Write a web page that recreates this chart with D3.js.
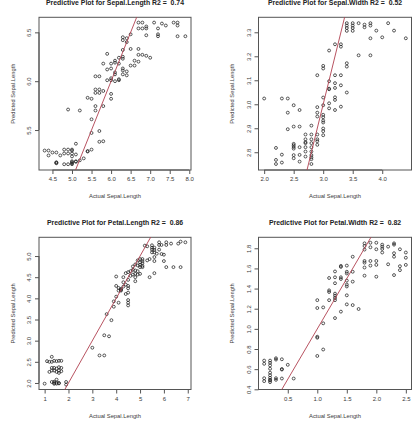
<!DOCTYPE html>
<html><head><meta charset="utf-8">
<script src="https://cdn.jsdelivr.net/npm/d3@7"></script>
<style>body{margin:0;background:#fff}svg{display:block}</style>
</head><body><svg id="c" width="416" height="423"></svg>
<script>
// [actual, predicted] pairs
const sepalLengthPts = [[4.3,5.29],[4.4,5.29],[4.4,5.24],[4.5,5.27],[4.6,5.27],[4.7,5.24],[4.6,5.16],[4.6,5.17],[4.6,5.165],
[4.8,5.30],[4.9,5.30],[5.0,5.29],[5.0,5.30],[4.8,5.26],[4.9,5.26],[5.0,5.26],[4.8,5.15],[4.9,5.15],[5.0,5.15],[5.0,5.16],[5.0,5.17],[5.0,5.18],
[5.1,5.18],[5.1,5.175],[5.2,5.19],[5.0,5.23],[5.1,5.36],[5.1,5.25],[5.3,5.21],[5.4,5.28],[5.4,5.285],[5.5,5.30],
[4.9,5.71],[5.2,5.70],[5.4,5.83],[5.5,5.82],[5.5,5.61],[5.5,5.47],[5.6,5.745],[5.6,5.70],[5.7,5.49],[5.7,5.38],[5.8,5.385],[5.8,5.745],
[5.6,5.915],[5.6,5.88],[5.7,5.915],[5.7,5.88],[5.8,5.90],[5.6,6.05],[5.7,6.05],[5.8,6.18],
[5.9,6.28],[5.9,6.12],[5.9,6.01],[6.0,6.18],[6.0,6.13],[6.0,6.03],[6.0,6.01],[6.0,5.87],[6.0,5.82],
[6.1,6.21],[6.1,6.19],[6.1,6.09],[6.1,6.07],[6.1,6.00],[6.2,6.24],[6.2,6.18],[6.2,6.02],[6.2,6.01],
[6.3,6.45],[6.3,6.42],[6.3,6.32],[6.3,6.25],[6.3,6.23],[6.3,6.13],[6.3,6.11],[6.3,6.07],
[6.4,6.44],[6.4,6.40],[6.4,6.10],[6.4,6.06],[6.5,6.48],[6.5,6.33],[6.5,6.16],[6.6,6.21],[6.6,6.16],
[6.7,6.60],[6.7,6.54],[6.8,6.60],[6.8,6.54],[6.7,6.33],[6.7,6.27],[6.7,6.20],[6.8,6.27],
[6.9,6.54],[6.9,6.56],[6.9,6.47],[6.9,6.26],[7.0,6.24],[7.1,6.60],[7.2,6.54],[7.2,6.48],[7.2,6.46],
[7.3,6.59],[7.4,6.57],[7.6,6.60],[7.7,6.60],[7.7,6.57],[7.7,6.46],[7.9,6.46]];

const sepalWidthPts = [[2.0,3.024],[2.2,2.818],[2.2,2.768],[2.2,2.751],[2.3,3.024],[2.3,2.790],[2.3,2.757],
[2.4,3.024],[2.4,2.965],[2.4,2.896],[2.5,2.996],[2.5,2.907],[2.5,2.835],[2.5,2.829],[2.5,2.822],[2.5,2.815],[2.5,2.788],[2.5,2.775],
[2.6,2.976],[2.6,2.907],[2.6,2.821],[2.6,2.789],[2.6,2.761],
[2.7,2.874],[2.7,2.854],[2.7,2.842],[2.7,2.838],[2.7,2.821],[2.7,2.803],[2.7,2.782],
[2.8,2.911],[2.8,2.874],[2.8,2.854],[2.8,2.838],[2.8,2.821],[2.8,2.803],[2.8,2.788],[2.8,2.779],[2.8,2.771],[2.8,2.751],
[2.9,3.121],[2.9,2.988],[2.9,2.965],[2.9,2.949],[2.9,2.874],[2.9,2.854],[2.9,2.846],[2.9,2.831],
[3.0,3.160],[3.0,3.149],[3.0,3.028],[3.0,2.996],[3.0,2.956],[3.0,2.946],[3.0,2.932],[3.0,2.924],[3.0,2.899],[3.0,2.888],[3.0,2.871],
[3.1,3.224],[3.1,3.096],[3.1,3.0625],[3.1,3.065],[3.1,3.004],[3.1,2.983],
[3.2,3.250],[3.2,3.121],[3.2,3.088],[3.2,3.068],[3.2,3.029],[3.2,3.018],[3.2,2.976],
[3.3,3.250],[3.3,3.240],[3.3,3.121],[3.3,3.079],[3.3,2.990],
[3.4,3.338],[3.4,3.328],[3.4,3.318],[3.4,3.306],[3.4,3.171],[3.4,3.157],[3.4,3.049],
[3.5,3.338],[3.5,3.328],[3.5,3.318],[3.5,3.306],[3.6,3.338],[3.6,3.204],[3.7,3.332],[3.7,3.321],
[3.8,3.338],[3.8,3.328],[3.8,3.275],[3.8,3.204],[3.9,3.307],[4.0,3.279],[4.1,3.338],[4.2,3.307],[4.4,3.275]];

const petalLengthPts = [[1.0,1.984],[1.1,2.516],[1.2,2.50],[1.3,2.619],[1.3,2.50],[1.4,2.524],[1.5,2.516],[1.6,2.524],[1.7,2.524],
[1.2,2.262],[1.3,2.294],[1.3,2.357],[1.4,2.294],[1.4,2.357],[1.5,2.262],[1.5,2.341],[1.6,2.373],[1.6,2.294],[1.6,2.238],[1.7,2.357],[1.7,2.278],
[1.3,2.024],[1.4,2.0],[1.4,2.03],[1.5,1.984],[1.5,2.079],[1.5,2.01],[1.6,2.0],[1.4,1.98],[1.6,1.99],[1.9,2.024],[1.9,1.960],
[3.0,2.833],[3.3,2.651],[3.5,2.651],[3.5,3.127],[3.7,3.103],[3.6,3.627],[3.8,3.484],[3.9,3.802],[3.9,3.929],
[4.0,4.294],[4.0,4.516],[4.0,4.040],[4.1,3.897],[4.1,4.183],[4.1,4.246],[4.2,4.222],[4.2,4.183],[4.2,4.20],
[4.3,4.50],[4.3,4.381],[4.3,4.278],[4.4,4.595],[4.4,4.325],[4.4,4.103],
[4.5,4.619],[4.5,4.437],[4.5,4.294],[4.5,4.238],[4.5,4.135],[4.5,3.960],[4.5,3.897],[4.5,3.833],
[4.6,4.643],[4.6,4.532],[4.7,4.754],[4.7,4.675],[4.7,4.563],
[4.8,4.802],[4.8,4.659],[4.8,4.579],[4.8,4.50],[4.8,4.405],[4.9,4.897],[4.9,4.778],[4.9,4.643],[4.9,4.563],
[5.0,4.929],[5.0,4.849],[5.0,4.794],[5.0,4.738],[5.0,4.579],[5.1,4.929],[5.1,4.881],[5.1,4.833],[5.1,4.770],[5.1,4.738],
[5.2,5.246],[5.3,5.230],[5.3,4.897],[5.4,4.929],[5.4,4.50],[5.5,5.254],[5.5,5.198],[5.5,5.151],[5.5,5.087],
[5.6,5.198],[5.6,5.143],[5.6,5.087],[5.6,4.976],[5.6,4.881],[5.6,4.595],[5.7,5.056],
[5.8,5.325],[5.8,5.262],[5.8,5.151],[5.9,5.262],[5.9,5.048],[6.0,5.032],[6.0,4.881],
[6.1,5.325],[6.1,5.262],[6.1,4.738],[6.3,5.294],[6.4,4.738],[6.6,5.294],[6.7,5.341],[6.7,4.738],[6.9,5.325]];

const petalWidthPts = [[0.1,0.685],[0.1,0.653],[0.1,0.510],[0.1,0.481],
[0.2,0.685],[0.2,0.663],[0.2,0.637],[0.2,0.604],[0.2,0.565],[0.2,0.539],[0.2,0.514],[0.2,0.494],[0.2,0.471],[0.2,0.488],
[0.3,0.708],[0.3,0.695],[0.3,0.510],[0.3,0.494],[0.4,0.698],[0.4,0.601],[0.4,0.596],[0.4,0.507],[0.5,0.643],[0.6,0.507],
[1.0,1.285],[1.0,1.207],[1.0,0.922],[1.0,0.912],[1.0,0.731],[1.1,1.213],[1.1,1.055],[1.1,0.795],
[1.2,1.505],[1.2,1.382],[1.2,1.366],[1.2,1.285],
[1.3,1.570],[1.3,1.512],[1.3,1.453],[1.3,1.350],[1.3,1.330],[1.3,1.307],[1.3,1.285],[1.3,1.107],
[1.4,1.625],[1.4,1.615],[1.4,1.512],[1.4,1.495],[1.4,1.171],
[1.5,1.628],[1.5,1.567],[1.5,1.550],[1.5,1.479],[1.5,1.440],[1.5,1.421],[1.5,1.333],[1.5,1.243],
[1.6,1.716],[1.6,1.567],[1.6,1.469],[1.6,1.236],[1.7,1.197],
[1.8,1.849],[1.8,1.823],[1.8,1.787],[1.8,1.674],[1.8,1.657],[1.8,1.609],[1.8,1.528],
[1.9,1.855],[1.9,1.810],[1.9,1.674],[1.9,1.628],[2.0,1.855],[2.0,1.790],[2.0,1.674],[2.0,1.635],[2.0,1.518],
[2.1,1.836],[2.1,1.816],[2.1,1.794],[2.1,1.758],[2.2,1.816],[2.2,1.641],
[2.3,1.849],[2.3,1.836],[2.3,1.751],[2.3,1.716],[2.3,1.534],[2.4,1.790],[2.4,1.622],[2.4,1.583],
[2.5,1.758],[2.5,1.706],[2.5,1.635]];

const titles = ["Predictive Plot for Sepal.Length R2 =  0.74","Predictive Plot for Sepal.Width R2 =  0.52",
                "Predictive Plot for Petal.Length R2 =  0.86","Predictive Plot for Petal.Width R2 =  0.82"];
const xLabel = "Actual Sepal.Length";
const yLabel = "Predicted Sepal.Length";
const xTicks = [[4.5,5.0,5.5,6.0,6.5,7.0,7.5,8.0],[2.0,2.5,3.0,3.5,4.0],[1,2,3,4,5,6,7],[0.5,1.0,1.5,2.0,2.5]];
const yTicks = [[5.5,6.0,6.5],[2.8,2.9,3.0,3.1,3.2,3.3],[2.0,2.5,3.0,3.5,4.0,4.5,5.0],[0.4,0.6,0.8,1.0,1.2,1.4,1.6,1.8]];
const xFormats = [".1f",".1f","d",".1f"];
const xDomains = [[4.156,8.044],[1.904,4.496],[0.764,7.136],[0.004,2.596]];
const yDomains = [[5.091,6.654],[2.726,3.3625],[1.846,5.443],[0.398,1.909]];

const layout = [
  {l:39, t:17.3, r:191, b:170},
  {l:258.5, t:17.3, r:411.5, b:170},
  {l:39, t:237.3, r:191, b:389.5},
  {l:258.5, t:237.3, r:411.5, b:389.5}
];
const allPts = [sepalLengthPts, sepalWidthPts, petalLengthPts, petalWidthPts];

const svg = d3.select("#c");
const FONT = "'Liberation Sans', Arial, Helvetica, sans-serif";
const textCol = "#3a3a3a";

allPts.forEach((pts, i) => {
  const L = layout[i];
  const x = d3.scaleLinear().domain(xDomains[i]).range([L.l, L.r]);
  const y = d3.scaleLinear().domain(yDomains[i]).range([L.b, L.t]);
  const g = svg.append("g");

  // x axis
  const xa = g.append("g").attr("transform", `translate(0,${L.b})`)
    .call(d3.axisBottom(x).tickValues(xTicks[i]).tickFormat(d3.format(xFormats[i])).tickSize(4).tickPadding(3));
  xa.select(".domain").attr("d", `M${x(xTicks[i][0])},0H${x(xTicks[i][xTicks[i].length-1])}`).attr("stroke","#555");
  xa.selectAll(".tick line").attr("stroke","#555");
  xa.selectAll(".tick text").attr("font-family",FONT).attr("font-size","6px").attr("fill",textCol);

  // y axis
  const ya = g.append("g").attr("transform", `translate(${L.l},0)`)
    .call(d3.axisLeft(y).tickValues(yTicks[i]).tickFormat(d3.format(".1f")).tickSize(4).tickPadding(3));
  ya.select(".domain").attr("d", `M0,${y(yTicks[i][0])}V${y(yTicks[i][yTicks[i].length-1])}`).attr("stroke","#555");
  ya.selectAll(".tick line").attr("stroke","#555");
  ya.selectAll(".tick text").attr("font-family",FONT).attr("font-size","6px").attr("fill",textCol)
    .attr("text-anchor","middle").attr("dy",null).attr("x",null)
    .attr("transform", `translate(-8,0) rotate(-90)`).attr("dy","0");

  // box
  g.append("rect").attr("x",L.l).attr("y",L.t).attr("width",L.r-L.l).attr("height",L.b-L.t)
    .attr("fill","none").attr("stroke","#555").attr("stroke-width",1);

  // clip
  const cid = "clip"+i;
  svg.append("clipPath").attr("id",cid).append("rect")
    .attr("x",L.l).attr("y",L.t).attr("width",L.r-L.l).attr("height",L.b-L.t);

  // points
  g.append("g").selectAll("circle").data(pts).join("circle")
    .attr("cx", d => x(d[0])).attr("cy", d => y(d[1])).attr("r",1.45)
    .attr("fill","none").attr("stroke","#222").attr("stroke-width",0.75);

  // y = x reference line
  const lo = Math.min(xDomains[i][0], yDomains[i][0]) - 1;
  const hi = Math.max(xDomains[i][1], yDomains[i][1]) + 1;
  g.append("line").attr("clip-path",`url(#${cid})`)
    .attr("x1",x(lo)).attr("y1",y(lo)).attr("x2",x(hi)).attr("y2",y(hi))
    .attr("stroke","#b0404f").attr("stroke-width",0.9);

  // title
  g.append("text").attr("x",(L.l+L.r)/2).attr("y",L.t-12.6).attr("text-anchor","middle")
    .style("white-space","pre").attr("xml:space","preserve")
    .attr("font-family",FONT).attr("font-weight","bold").attr("font-size","6.9px").attr("fill","#222")
    .text(titles[i]);
  // axis titles
  g.append("text").attr("x",(L.l+L.r)/2).attr("y",L.b+28).attr("text-anchor","middle")
    .attr("font-family",FONT).attr("font-size","5.8px").attr("fill",textCol).text(xLabel);
  g.append("text").attr("transform",`translate(${L.l-24.5},${(L.t+L.b)/2}) rotate(-90)`).attr("text-anchor","middle")
    .attr("font-family",FONT).attr("font-size","5.8px").attr("fill",textCol).text(yLabel);
});
</script>
</body></html>
